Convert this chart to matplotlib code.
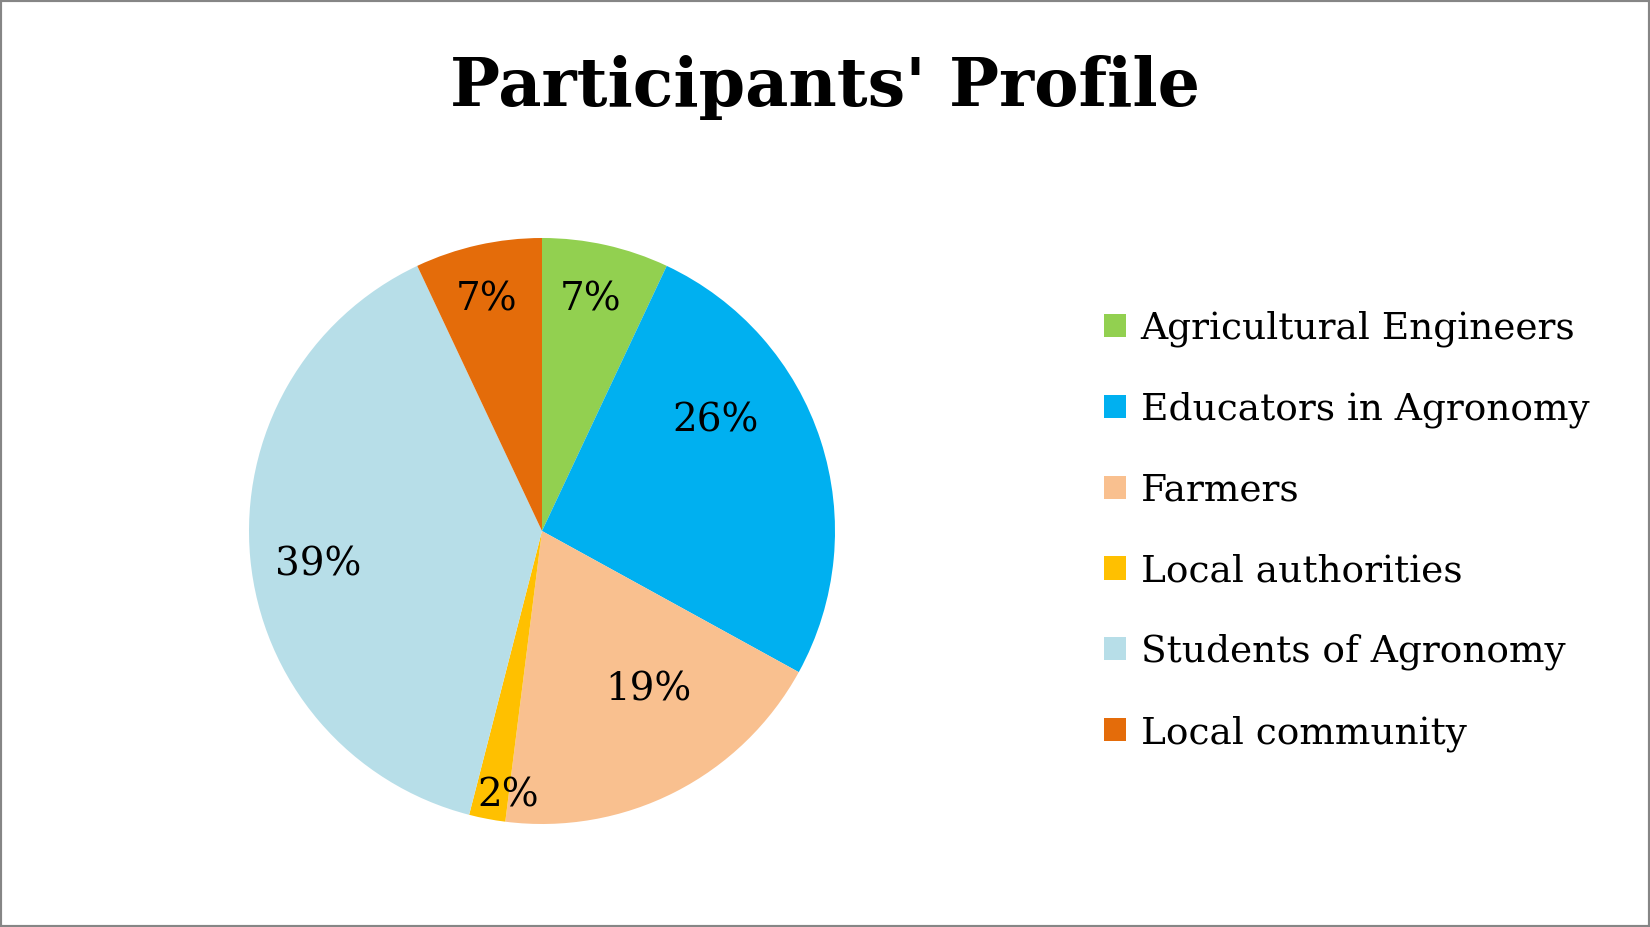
import matplotlib
matplotlib.use("Agg")
import matplotlib.pyplot as plt
from matplotlib.patches import Rectangle

plt.rcParams['font.family'] = ['DejaVu Serif']

categories = ["Agricultural Engineers", "Educators in Agronomy", "Farmers",
              "Local authorities", "Students of Agronomy", "Local community"]
shares = [7, 26, 19, 2, 39, 7]
colors = ["#92D050", "#00B0F0", "#F9C08F", "#FFC000", "#B7DEE8", "#E46C0A"]
# label spots inside the pie, in radius units (Excel best-fit placement)
label_pos = [(0.165, 0.789), (0.591, 0.376), (0.362, -0.541),
             (-0.115, -0.903), (-0.763, -0.115), (-0.190, 0.789)]

W, H = 1650, 927
fig = plt.figure(figsize=(W / 100, H / 100), dpi=100)

cx, cy, r = 542, 531, 293
ax = fig.add_axes([(cx - r) / W, 1 - (cy + r) / H, 2 * r / W, 2 * r / H])
wedges, _ = ax.pie(shares, colors=colors, startangle=90, counterclock=False,
                   radius=1, wedgeprops=dict(linewidth=0))
ax.set_xlim(-1, 1)
ax.set_ylim(-1, 1)
ax.set_aspect('equal')
for v, (x, y) in zip(shares, label_pos):
    ax.text(x, y, f"{v}%", ha='center', va='center', fontsize=28)

fig.text(0.5, 1 - 87 / H, "Participants' Profile", ha='center', va='center',
         fontsize=48, fontweight='bold')

fig.legend(wedges, categories, loc='center left',
           bbox_to_anchor=(1104 / W, 1 - 531 / H), frameon=False, fontsize=27,
           handlelength=0.58, handleheight=0.58, handletextpad=0.4,
           labelspacing=1.19, borderpad=0, borderaxespad=0)

fig.patches.append(Rectangle((0, 0), 1, 1, transform=fig.transFigure,
                             fill=False, edgecolor="#868686", linewidth=3))

fig.savefig("out.png", dpi=100)
